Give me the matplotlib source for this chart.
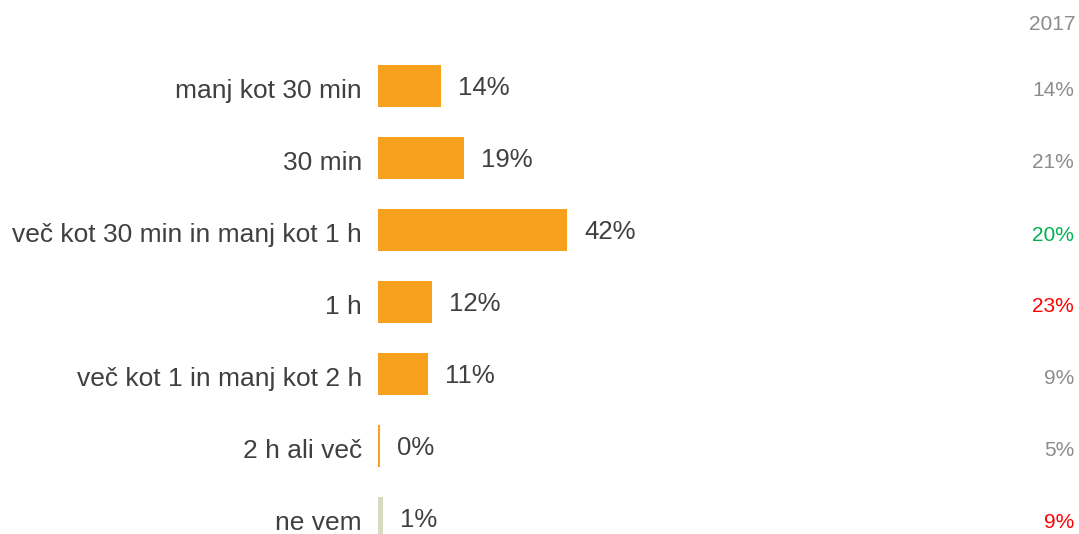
import matplotlib
matplotlib.use("Agg")
import matplotlib.pyplot as plt

categories = ["manj kot 30 min", "30 min", "več kot 30 min in manj kot 1 h", "1 h",
              "več kot 1 in manj kot 2 h", "2 h ali več", "ne vem"]
values = [14, 19, 42, 12, 11, 0, 1]
labels = ["14%", "19%", "42%", "12%", "11%", "0%", "1%"]
prev_year = "2017"
prev_labels = ["14%", "21%", "20%", "23%", "9%", "5%", "9%"]
prev_colors = ["#8c8c8c", "#8c8c8c", "#00b050", "#ff0000", "#8c8c8c", "#8c8c8c", "#ff0000"]
bar_colors = ["#f7a01e"] * 6 + ["#d9d8c0"]

plt.rcParams['font.family'] = ['Liberation Sans', 'DejaVu Sans']

W, H = 1079, 534
fig = plt.figure(figsize=(W / 100, H / 100), dpi=100)

# axes spans from bar baseline to right column, full height
left_px, right_px = 378, 1000
px_per_unit = 4.5
ax = fig.add_axes([left_px / W, 0, (right_px - left_px) / W, 1])
ax.set_xlim(0, (right_px - left_px) / px_per_unit)
row0, step = 86, 72
ax.set_ylim((H - row0) / step, -row0 / step)
ax.axis("off")

ypos = list(range(len(categories)))
# tiny width so the 0% row still shows a line
widths = [v if v > 0 else 0.4 for v in values]
ax.barh(ypos, widths, height=0.57, color=bar_colors)

text_color = "#404040"
for y, v, cat, lab, pl, pc in zip(ypos, widths, categories, labels, prev_labels, prev_colors):
    ax.annotate(lab, (v, y), xytext=(12.5, -1.5), textcoords="offset points",
                ha="left", va="center", fontsize=18.5, color=text_color)
    ax.annotate(cat, (0, y), xytext=(-11.5, -3.5), textcoords="offset points",
                ha="right", va="center", fontsize=19, color=text_color)
    fig.text(1074 / W, 1 - (row0 + 5 + step * y) / H, pl, ha="right", va="center",
             fontsize=15, color=pc)

fig.text(1075 / W, 1 - 24 / H, prev_year, ha="right", va="center", fontsize=15, color="#8c8c8c")

fig.savefig("out.png", dpi=100)
